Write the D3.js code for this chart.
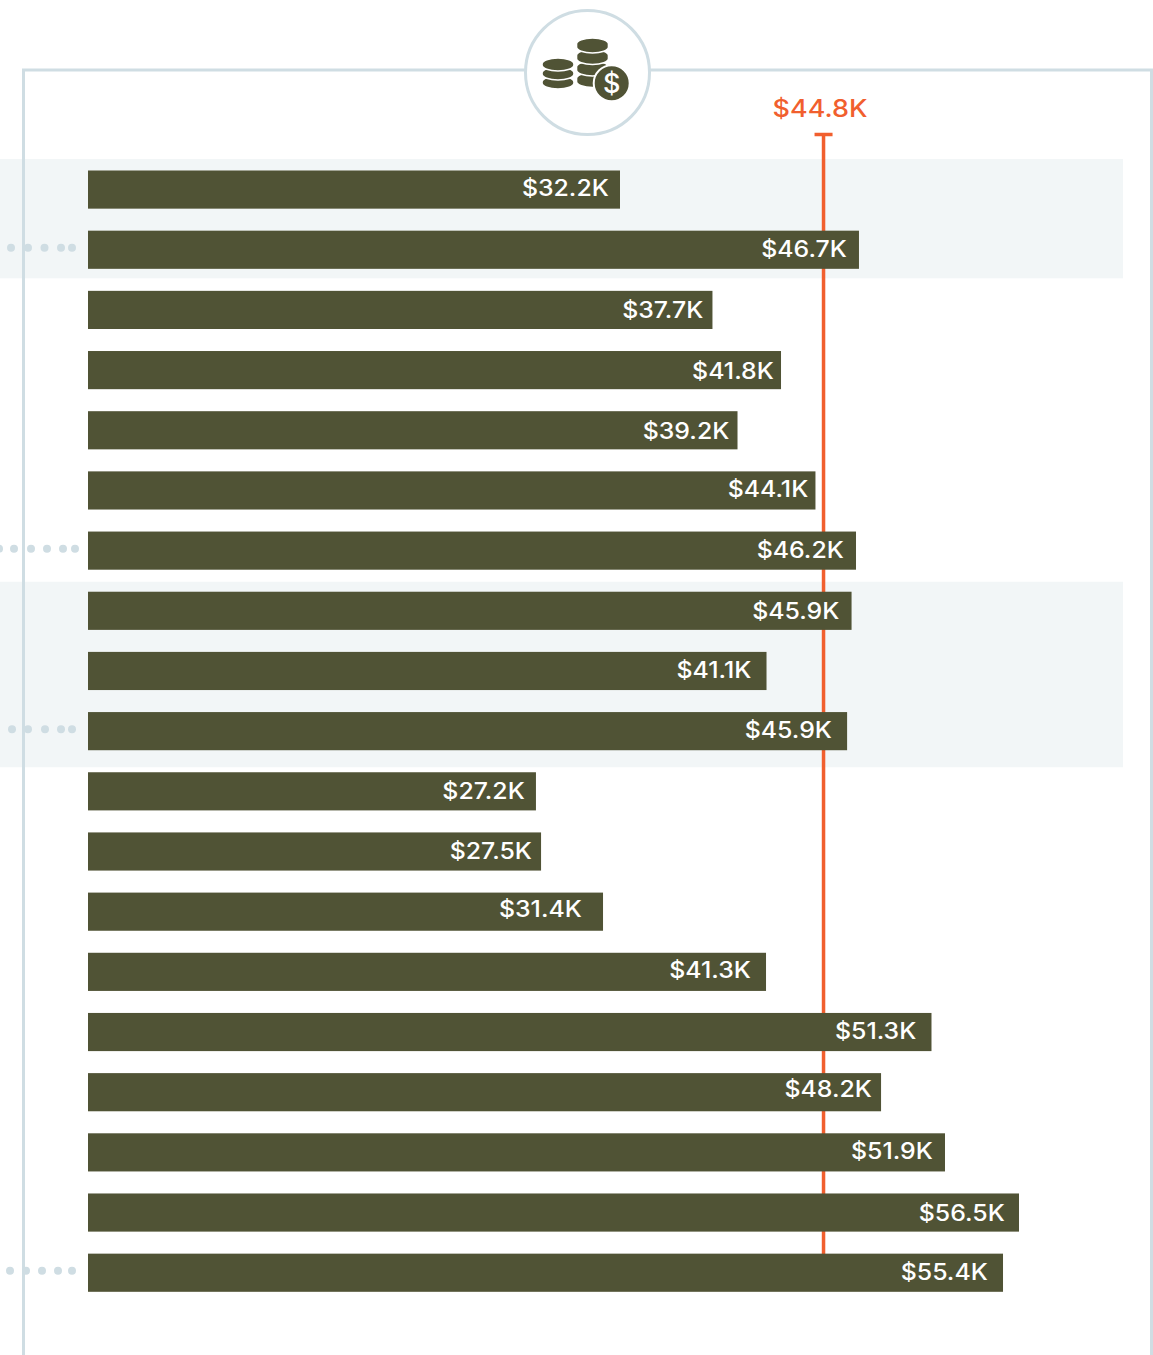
<!DOCTYPE html>
<html>
<head>
<meta charset="utf-8">
<script src="https://cdn.jsdelivr.net/npm/d3@7"></script>
<style>
  body { margin: 0; background: #fff; }
  svg { display: block; }
  text { font-family: Inter, "Open Sans", sans-serif; }
</style>
</head>
<body>
<script>
// bar rows, top to bottom (the row names are cut off in the source picture)
const rows = d3.range(19);
const barValues = [32.28, 46.78, 37.89, 42.05, 39.41, 44.14, 46.60, 46.33, 41.17, 46.06, 27.18, 27.49, 31.25, 41.14, 51.18, 48.12, 52.0, 56.49, 55.52];
const barLabels = ["$32.2K", "$46.7K", "$37.7K", "$41.8K", "$39.2K", "$44.1K", "$46.2K", "$45.9K", "$41.1K", "$45.9K", "$27.2K", "$27.5K", "$31.4K", "$41.3K", "$51.3K", "$48.2K", "$51.9K", "$56.5K", "$55.4K"];
const averageValue = 44.63;
const averageLabel = "$44.8K";
// rows sitting on a shaded band
const bandGroups = [[0, 1], [7, 9]];
// rows with the dotted leader on the left
const dottedRows = [1, 6, 9, 18];

// label placement inside each bar, the source is hand set
const labelInsets = [12, 13, 10, 8, 9, 8, 13, 13, 16, 16, 12, 10, 22, 16, 16, 10, 13, 15, 16];
const labelShifts = [-2, -1, 0, 1, 1, -1, -1, 0, -1, -1, 0, 0, -3, -2, -1, -3, -1, 0, -1];
const dotOffsets = {1: [11, 28, 44.5, 61, 72], 6: [-1, 14, 31, 47, 63, 75], 9: [12, 28, 45, 61, 72], 18: [10, 26, 42, 58, 72]};
const bandPads = [[11.5, 9.5], [10, 17]];

const width = 1153;
const height = 1355;
const barColor = "#505335";
const accent = "#f15f2e";
const frameColor = "#cfdde3";
// the source face is wider than anything installed, so stretch the glyphs a bit
const labelStretch = 1.105;

const svg = d3.select("body").append("svg")
  .attr("width", width)
  .attr("height", height);

const x = d3.scaleLinear().domain([0, 56.49]).range([88, 1019]);
const y = d3.scaleBand().domain(rows).range([170.5, 1291.8]).paddingInner(0.366);

// shaded bands
svg.selectAll("rect.band").data(bandGroups).enter().append("rect")
  .attr("class", "band")
  .attr("x", 0)
  .attr("width", 1123)
  .attr("y", (d, i) => y(d[0]) - bandPads[i][0])
  .attr("height", (d, i) => y(d[1]) + y.bandwidth() - y(d[0]) + bandPads[i][0] + bandPads[i][1])
  .attr("fill", "#f2f6f7");

// frame
svg.append("path")
  .attr("d", `M23.5,${height}V70H1151.5V${height}`)
  .attr("fill", "none")
  .attr("stroke", frameColor)
  .attr("stroke-width", 3);

// dotted leaders
dottedRows.forEach(r => {
  svg.selectAll(`circle.dot${r}`).data(dotOffsets[r]).enter().append("circle")
    .attr("class", `dot${r}`)
    .attr("cx", d => d)
    .attr("cy", y(r) + y.bandwidth() / 2 - 2)
    .attr("r", 4)
    .attr("fill", frameColor);
});

// average line goes behind the bars
const lineX = x(averageValue);
svg.append("line")
  .attr("x1", lineX).attr("x2", lineX)
  .attr("y1", 134).attr("y2", y(18) + 5)
  .attr("stroke", accent).attr("stroke-width", 3.5);
svg.append("line")
  .attr("x1", lineX - 9).attr("x2", lineX + 9)
  .attr("y1", 134.5).attr("y2", 134.5)
  .attr("stroke", accent).attr("stroke-width", 3.5);
svg.append("text")
  .attr("transform", `translate(820,117) scale(1.1,1)`)
  .attr("text-anchor", "middle")
  .attr("font-size", 24.5)
  .attr("font-weight", 500)
  .attr("fill", accent)
  .text(averageLabel);

// bars
svg.selectAll("rect.bar").data(rows).enter().append("rect")
  .attr("class", "bar")
  .attr("x", x(0))
  .attr("y", d => y(d))
  .attr("width", d => x(barValues[d]) - x(0))
  .attr("height", y.bandwidth())
  .attr("fill", barColor);

svg.selectAll("text.value").data(rows).enter().append("text")
  .attr("class", "value")
  .attr("transform", d => `translate(${x(barValues[d]) - labelInsets[d] + 0.8},${y(d) + y.bandwidth() / 2 + 8 + labelShifts[d]}) scale(${labelStretch},1)`)
  .attr("text-anchor", "end")
  .attr("font-size", 22.5)
  .attr("font-weight", 500)
  .attr("fill", "#fff")
  .text(d => barLabels[d]);

// icon
svg.append("circle")
  .attr("cx", 587.5).attr("cy", 72.5).attr("r", 62)
  .attr("fill", "#fff")
  .attr("stroke", frameColor)
  .attr("stroke-width", 3);

const drawStack = (cx, top, layers, gap, h) => {
  const rx = 16;
  const ry = 6;
  const g = svg.append("g").attr("transform", `translate(${cx},${top})`);
  d3.range(layers - 1, -1, -1).forEach(i => {
    const t = i * gap;
    g.append("path")
      .attr("d", `M${-rx},${t}A${rx},${ry} 0 0 1 ${rx},${t}V${t + h}A${rx},${ry} 0 0 1 ${-rx},${t + h}Z`)
      .attr("fill", barColor)
      .attr("stroke", "#fff")
      .attr("stroke-width", 1.6);
  });
};
drawStack(558, 64, 3, 9, 1);
drawStack(592.5, 44, 4, 11.5, 3);

svg.append("circle")
  .attr("cx", 611.7).attr("cy", 83.3).attr("r", 18)
  .attr("fill", barColor)
  .attr("stroke", "#fff")
  .attr("stroke-width", 2);
svg.append("text")
  .attr("x", 611.7).attr("y", 93)
  .attr("text-anchor", "middle")
  .attr("font-size", 27)
  .attr("font-weight", 500)
  .attr("fill", "#fff")
  .text("$");
</script>
</body>
</html>
